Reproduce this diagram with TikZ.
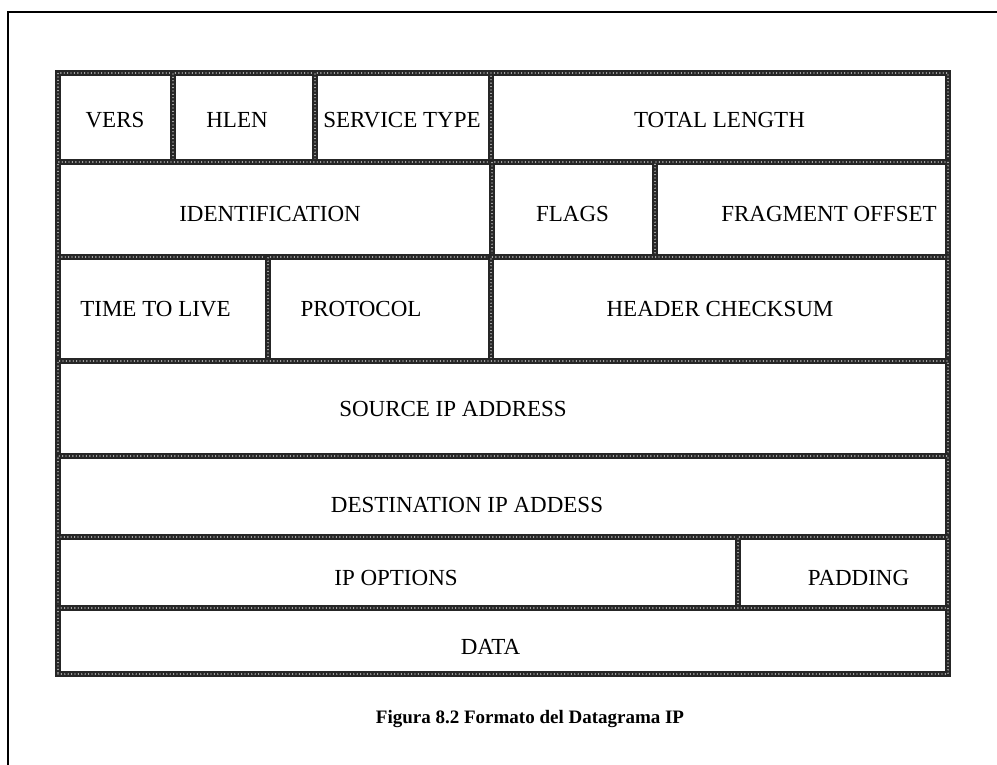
\documentclass[tikz,border=0pt]{standalone}
\usepackage{fontspec}
\setmainfont{Liberation Serif}
\begin{document}
\begin{tikzpicture}[x=1pt,y=-1pt,
  cellbox/.style={draw=black!85, line width=6.5pt, inner sep=0pt, outer sep=0pt,
    postaction={draw=white, line width=1.4pt, dash pattern=on 0pt off 3.4pt, line cap=round}},
  lbl/.style={anchor=base, inner sep=0pt, font=\fontsize{23}{27}\selectfont},
  capt/.style={anchor=base, inner sep=0pt, font=\fontsize{19}{23}\selectfont\bfseries},
  frame/.style={draw=black, line width=2.2pt}]
\useasboundingbox (0,0) rectangle (997,765);
\fill[white] (0,0) rectangle (997,765);
\draw[frame] (997,12) -- (8,12) -- (8,765);
\newcommand{\mkcell}[5]{\node[cellbox, minimum width={#3-#2}, minimum height={#5-#4}] (#1) at ({(#2+#3)/2},{(#4+#5)/2}) {};}
% row 1
\mkcell{cvers}{58}{173}{73}{162}
\mkcell{chlen}{173}{315}{73}{162}
\mkcell{cserv}{315}{491}{73}{162}
\mkcell{ctotal}{491}{948}{73}{162}
% row 2
\mkcell{cident}{58}{492}{162}{257}
\mkcell{cflags}{492}{655}{162}{257}
\mkcell{cfrag}{655}{948}{162}{257}
% row 3
\mkcell{cttl}{58}{268}{257}{361}
\mkcell{cproto}{268}{491}{257}{361}
\mkcell{cchk}{491}{948}{257}{361}
% rows 4-7
\mkcell{csrc}{58}{948}{361}{456}
\mkcell{cdst}{58}{948}{456}{537}
\mkcell{copt}{58}{738}{537}{608}
\mkcell{cpad}{738}{948}{537}{608}
\mkcell{cdata}{58}{948}{608}{674}
% labels
\node[lbl] (tvers)  at (115,127.5) {VERS};
\node[lbl] (thlen)  at (237,127.5) {HLEN};
\node[lbl] (tserv)  at (402,127.5) {SERVICE TYPE};
\node[lbl] (ttotal) at (719.5,127.5) {TOTAL LENGTH};
\node[lbl] (tident) at (270,221.5) {IDENTIFICATION};
\node[lbl] (tflags) at (572.5,221.5) {FLAGS};
\node[lbl] (tfrag)  at (829,221.5) {FRAGMENT OFFSET};
\node[lbl] (tttl)   at (155.5,316.5) {TIME TO LIVE};
\node[lbl] (tproto) at (361,316.5) {PROTOCOL};
\node[lbl] (tchk)   at (720,316.5) {HEADER CHECKSUM};
\node[lbl] (tsrc)   at (453,416.5) {SOURCE IP ADDRESS};
\node[lbl] (tdst)   at (467,512.5) {DESTINATION IP ADDESS};
\node[lbl] (topt)   at (396,585.5) {IP OPTIONS};
\node[lbl] (tpad)   at (858.5,585.5) {PADDING};
\node[lbl] (tdata)  at (490.5,654.5) {DATA};
\node[capt] (caption) at (530,723) {Figura 8.2 Formato del Datagrama IP};
\end{tikzpicture}
\end{document}
